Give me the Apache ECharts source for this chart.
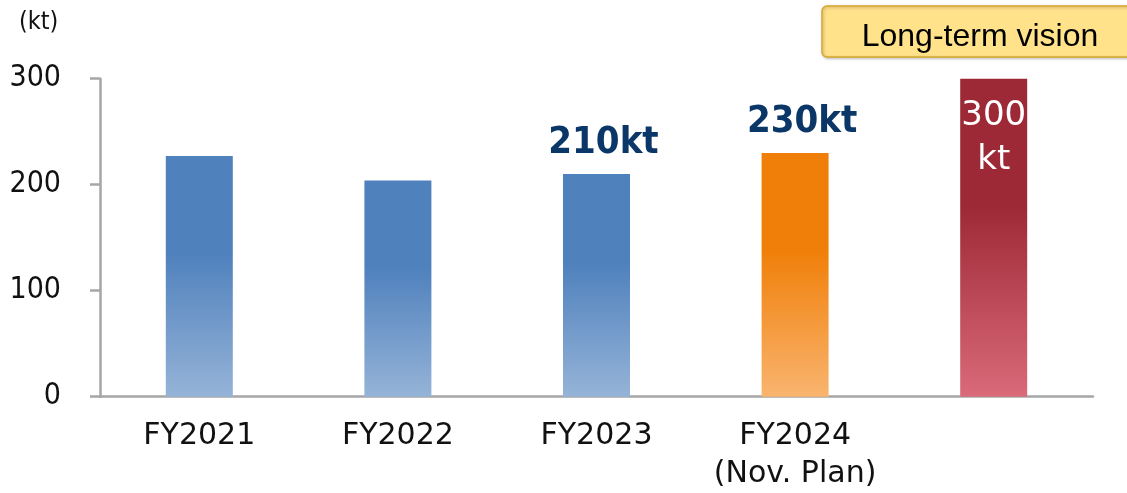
<!DOCTYPE html>
<html>
<head>
<meta charset="utf-8">
<style>
  html, body { margin: 0; padding: 0; background: #ffffff; }
  #chart { width: 1127px; height: 493px; }
</style>
<script src="https://cdn.jsdelivr.net/npm/echarts@6/dist/echarts.min.js"></script>
</head>
<body>
<div id="chart"></div>
<script>
// Production volume by fiscal year (kt)
const categories = ['FY2021', 'FY2022', 'FY2023', 'FY2024\n(Nov. Plan)', ''];
const volumes = [227, 204, 210, 230, 300];
const yTicks = [0, 100, 200, 300];

// Per-bar styling: actuals in blue, plan in orange, long-term vision in red
const barPalettes = [
  ['#4F81BD', '#95B3D7'],
  ['#4F81BD', '#95B3D7'],
  ['#4F81BD', '#95B3D7'],
  ['#F07F09', '#F9B46E'],
  ['#9E2936', '#DA6A79']
];
const labelled = [false, false, true, true, 'inside'];

function gradient(top, bottom) {
  return new echarts.graphic.LinearGradient(0, 0, 0, 1, [
    { offset: 0, color: top },
    { offset: 0.4, color: top },
    { offset: 1, color: bottom }
  ]);
}

const seriesData = volumes.map((v, i) => {
  const item = {
    value: v,
    itemStyle: { color: gradient(barPalettes[i][0], barPalettes[i][1]) }
  };
  if (labelled[i] === true) {
    item.label = {
      show: true,
      position: 'top',
      distance: 12,
      offset: [7, 0],
      formatter: '{c}kt',
      color: '#0B3768',
      fontFamily: 'DejaVu Sans Condensed',
      fontWeight: 'bold',
      fontSize: 38
    };
  } else if (labelled[i] === 'inside') {
    item.label = {
      show: true,
      position: 'insideTop',
      distance: 15,
      formatter: '{c}\nkt',
      color: '#ffffff',
      fontFamily: 'DejaVu Sans',
      fontSize: 34,
      lineHeight: 44
    };
  }
  return item;
});

const chart = echarts.init(document.getElementById('chart'), null, { renderer: 'canvas' });

chart.setOption({
  animation: false,
  backgroundColor: '#ffffff',
  title: {
    text: '(kt)',
    left: 19,
    top: 10,
    padding: 0,
    textStyle: {
      color: '#111111',
      fontFamily: 'DejaVu Sans Condensed',
      fontWeight: 'normal',
      fontSize: 25
    }
  },
  grid: {
    left: 100, right: 34, top: 78.7, bottom: 96.3,
    containLabel: false,
    outerBoundsMode: 'none'
  },
  xAxis: {
    type: 'category',
    data: categories,
    axisLine: { show: true, lineStyle: { color: '#A6A6A6', width: 2.5 } },
    axisTick: { show: false },
    axisLabel: {
      color: '#111111',
      fontFamily: 'DejaVu Sans',
      fontSize: 30,
      lineHeight: 38,
      margin: 21,
      interval: 0
    }
  },
  yAxis: {
    type: 'value',
    min: yTicks[0],
    max: yTicks[yTicks.length - 1],
    interval: 100,
    axisLine: { show: true, lineStyle: { color: '#A6A6A6', width: 2.5 } },
    axisTick: { show: true, length: 10, lineStyle: { color: '#A6A6A6', width: 2.5 } },
    splitLine: { show: false },
    axisLabel: {
      color: '#111111',
      fontFamily: 'DejaVu Sans Condensed',
      fontSize: 30,
      margin: 39
    }
  },
  series: [{
    type: 'bar',
    data: seriesData,
    barWidth: 67
  }],
  graphic: [
    {
      type: 'rect',
      shape: { x: 822, y: 6, width: 330, height: 51, r: 5 },
      style: {
        fill: '#FFE28A',
        stroke: '#D9A82A',
        lineWidth: 1.5,
        shadowBlur: 3,
        shadowOffsetX: 1,
        shadowOffsetY: 1,
        shadowColor: 'rgba(0,0,0,0.25)'
      }
    },
    {
      type: 'text',
      x: 980,
      y: 37,
      style: {
        text: 'Long-term vision',
        fill: '#000000',
        fontFamily: 'Liberation Sans',
        fontSize: 32,
        align: 'center',
        verticalAlign: 'middle'
      }
    }
  ]
});
</script>
</body>
</html>
